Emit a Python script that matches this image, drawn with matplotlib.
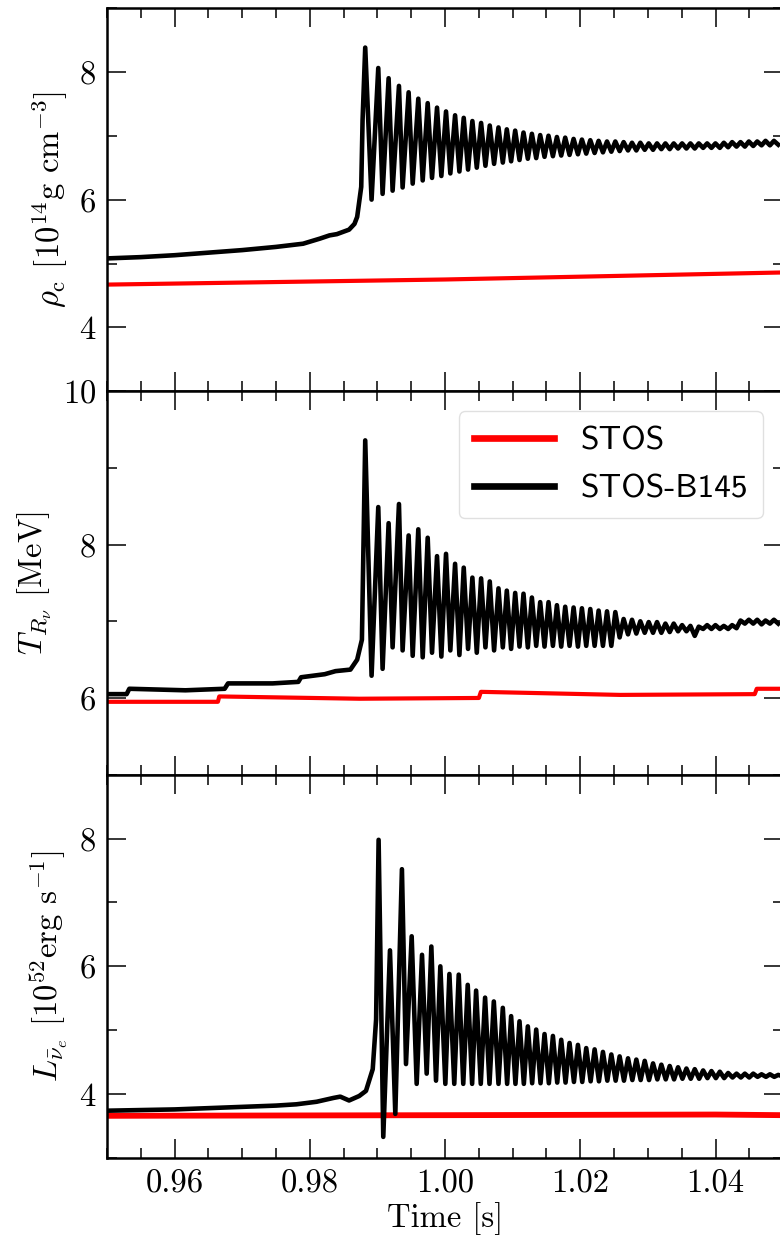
import numpy as np
import matplotlib
matplotlib.use("Agg")
import matplotlib.pyplot as plt
from matplotlib.ticker import MultipleLocator

plt.rcParams.update({
    "font.family": "serif",
    "font.serif": ["cmr10"],
    "mathtext.fontset": "cm",
    "axes.formatter.use_mathtext": True,
    "axes.unicode_minus": False,
    "font.size": 23.5,
})

# ---- shared peak / trough times after bounce (panels 1 and 2) ----
t_peak = [0.98819, 0.99012, 0.99165, 0.99318, 0.99461, 0.99604, 0.99743, 0.99881, 1.00014, 1.00148,
          1.00276, 1.00404, 1.00533, 1.00661, 1.00790, 1.00913, 1.01037, 1.01160, 1.01284, 1.01407,
          1.01530, 1.01654, 1.01777, 1.01901, 1.02024, 1.02148, 1.02271, 1.02395, 1.02518, 1.02641,
          1.02765, 1.02888, 1.03012, 1.03135, 1.03259, 1.03382, 1.03506, 1.03629, 1.03752, 1.03876,
          1.03999, 1.04123, 1.04246, 1.04370, 1.04493, 1.04617, 1.04740, 1.04864]
t_trough = [0.98913, 0.99076, 0.99224, 0.99372, 0.99521, 0.99669, 0.99807, 0.99945, 1.00078, 1.00212,
            1.00340, 1.00469, 1.00597, 1.00725, 1.00854, 1.00977, 1.01101, 1.01224, 1.01348, 1.01471,
            1.01595, 1.01718, 1.01841, 1.01965, 1.02088, 1.02212, 1.02335, 1.02459, 1.02582, 1.02706,
            1.02829, 1.02953, 1.03076, 1.03199, 1.03323, 1.03446, 1.03570, 1.03693, 1.03817, 1.03940,
            1.04064, 1.04187, 1.04311, 1.04434, 1.04558, 1.04681, 1.04805, 1.04928]

# ---- panel 1: central density ----
rho_red_t = [0.95, 1.00, 1.05]
rho_red = [4.67, 4.75, 4.86]
rho_pre_t = [0.95, 0.955, 0.96, 0.965, 0.97, 0.975, 0.979, 0.9815, 0.9829, 0.9840,
             0.9858, 0.9866, 0.9870, 0.9876, 0.9878]
rho_pre = [5.08, 5.10, 5.13, 5.17, 5.21, 5.26, 5.31, 5.39, 5.44, 5.46,
           5.53, 5.62, 5.73, 6.20, 7.25]
rho_peak = [8.38, 8.06, 7.90, 7.78, 7.68, 7.58, 7.51, 7.44, 7.38, 7.32,
            7.28, 7.23, 7.20, 7.16, 7.13, 7.10, 7.08, 7.05, 7.03, 7.01,
            7.00, 6.98, 6.97, 6.95, 6.94, 6.93, 6.92, 6.91, 6.91, 6.90,
            6.89, 6.89, 6.88, 6.88, 6.88, 6.88, 6.88, 6.88, 6.88, 6.88,
            6.88, 6.89, 6.90, 6.90, 6.91, 6.91, 6.92, 6.92]
rho_trough = [6.00, 6.09, 6.14, 6.19, 6.25, 6.30, 6.34, 6.37, 6.41, 6.44,
              6.47, 6.50, 6.53, 6.56, 6.58, 6.60, 6.62, 6.64, 6.65, 6.67,
              6.68, 6.69, 6.70, 6.71, 6.72, 6.73, 6.74, 6.75, 6.76, 6.77,
              6.77, 6.78, 6.78, 6.79, 6.79, 6.80, 6.80, 6.80, 6.81, 6.81,
              6.81, 6.82, 6.83, 6.83, 6.84, 6.85, 6.85, 6.86]

# ---- panel 2: neutrinosphere temperature ----
temp_red_t = [0.95, 0.9664, 0.9666, 0.9873, 1.0050, 1.0053, 1.0259, 1.0458, 1.0461, 1.05]
temp_red = [5.95, 5.95, 6.02, 5.99, 6.00, 6.08, 6.04, 6.05, 6.12, 6.12]
temp_pre_t = [0.95, 0.9529, 0.9533, 0.9616, 0.9674, 0.9679, 0.9745, 0.9783, 0.9787, 0.9822,
              0.9838, 0.9860, 0.9870, 0.9877]
temp_pre = [6.05, 6.05, 6.12, 6.10, 6.12, 6.19, 6.19, 6.21, 6.27, 6.31,
            6.35, 6.37, 6.50, 6.76]
temp_peak = [9.36, 8.49, 8.28, 8.53, 8.12, 8.20, 8.09, 7.85, 7.88, 7.75,
             7.70, 7.57, 7.56, 7.52, 7.43, 7.40, 7.37, 7.36, 7.31, 7.25,
             7.25, 7.21, 7.19, 7.18, 7.17, 7.16, 7.14, 7.13, 7.12, 7.03,
             7.02, 7.00, 6.99, 6.99, 6.97, 6.97, 6.95, 6.94, 6.93, 6.95,
             6.95, 6.94, 6.95, 7.01, 7.02, 7.02, 7.01, 7.02]
temp_trough = [6.29, 6.38, 6.66, 6.62, 6.55, 6.53, 6.59, 6.54, 6.62, 6.56,
               6.64, 6.59, 6.66, 6.62, 6.66, 6.64, 6.67, 6.66, 6.68, 6.67,
               6.68, 6.67, 6.68, 6.67, 6.68, 6.68, 6.68, 6.68, 6.79, 6.83,
               6.84, 6.85, 6.85, 6.85, 6.86, 6.87, 6.87, 6.81, 6.90, 6.90,
               6.90, 6.90, 6.91, 6.97, 6.97, 6.96, 6.97, 6.97]

# ---- panel 3: anti-nu_e luminosity ----
lum_red_t = [0.95, 1.00, 1.04, 1.05]
lum_red = [3.66, 3.67, 3.68, 3.67]
lum_pre_t = [0.95, 0.955, 0.96, 0.965, 0.97, 0.975, 0.978, 0.981, 0.9835, 0.9845,
             0.9858, 0.9873, 0.9883, 0.9893, 0.9898]
lum_pre = [3.74, 3.75, 3.76, 3.78, 3.80, 3.82, 3.84, 3.88, 3.94, 3.96,
           3.90, 3.97, 4.05, 4.39, 5.17]
lum_peak_t = [0.99017, 0.99185, 0.99362, 0.99506, 0.99659, 0.99797, 0.99930, 1.00064, 1.00202, 1.00335,
              1.00459, 1.00592, 1.00721, 1.00854, 1.00977, 1.01101, 1.01224, 1.01348, 1.01471, 1.01595,
              1.01718, 1.01841, 1.01965, 1.02088, 1.02212, 1.02335, 1.02459, 1.02582, 1.02706, 1.02829,
              1.02953, 1.03076, 1.03199, 1.03323, 1.03446, 1.03570, 1.03693, 1.03817, 1.03940, 1.04064,
              1.04187, 1.04311, 1.04434, 1.04558, 1.04681, 1.04805, 1.04928]
lum_peak = [7.98, 6.25, 7.52, 6.47, 6.18, 6.31, 6.00, 5.88, 5.87, 5.71,
            5.62, 5.51, 5.45, 5.35, 5.22, 5.14, 5.06, 5.01, 4.94, 4.91,
            4.85, 4.80, 4.77, 4.72, 4.70, 4.66, 4.62, 4.59, 4.56, 4.54,
            4.52, 4.48, 4.46, 4.44, 4.42, 4.40, 4.39, 4.37, 4.36, 4.35,
            4.33, 4.32, 4.32, 4.32, 4.31, 4.31, 4.30]
lum_trough_t = [0.99086, 0.99264, 0.99422, 0.99580, 0.99728, 0.99866, 1.00004, 1.00136, 1.00269, 1.00400,
                1.00528, 1.00657, 1.00790, 1.00918, 1.01041, 1.01165, 1.01288, 1.01412, 1.01535, 1.01659,
                1.01782, 1.01906, 1.02029, 1.02153, 1.02276, 1.02400, 1.02523, 1.02646, 1.02770, 1.02893,
                1.03017, 1.03140, 1.03264, 1.03387, 1.03511, 1.03634, 1.03758, 1.03881, 1.04005, 1.04128,
                1.04252, 1.04375, 1.04499, 1.04622, 1.04746, 1.04869, 1.04990]
lum_trough = [3.33, 3.69, 4.47, 4.16, 4.32, 4.21, 4.16, 4.16, 4.16, 4.16,
              4.16, 4.16, 4.16, 4.16, 4.16, 4.16, 4.17, 4.17, 4.17, 4.18,
              4.18, 4.19, 4.19, 4.20, 4.20, 4.21, 4.21, 4.21, 4.22, 4.22,
              4.22, 4.23, 4.23, 4.23, 4.24, 4.24, 4.24, 4.25, 4.25, 4.25,
              4.26, 4.26, 4.26, 4.27, 4.27, 4.27, 4.28]


def merge(t_pre, v_pre, t_pk, v_pk, t_tr, v_tr):
    # pre-bounce track + alternating peaks/troughs, sorted in time
    t = np.concatenate([t_pre, t_pk, t_tr])
    v = np.concatenate([v_pre, v_pk, v_tr])
    order = np.argsort(t)
    return t[order], v[order]


fig, axes = plt.subplots(3, 1, sharex=True, figsize=(7.8, 12.43), dpi=100)
fig.subplots_adjust(left=0.1372, right=1.004, bottom=0.0684, top=0.9936, hspace=0)

panels = [
    (rho_red_t, rho_red, merge(rho_pre_t, rho_pre, t_peak, rho_peak, t_trough, rho_trough),
     (3, 9), r'$\rho_{\rm c}$ [$10^{14}$g cm$^{-3}$]'),
    (temp_red_t, temp_red, merge(temp_pre_t, temp_pre, t_peak, temp_peak, t_trough, temp_trough),
     (5, 10), r'$T_{R_\nu}$ [MeV]'),
    (lum_red_t, lum_red, merge(lum_pre_t, lum_pre, lum_peak_t, lum_peak, lum_trough_t, lum_trough),
     (3, 9), r'$L_{\bar{\nu}_e}$ [$10^{52}$erg s$^{-1}$]'),
]

for i, (ax, (rt, rv, (bt, bv), ylim, ylab)) in enumerate(zip(axes, panels)):
    red_lw = 4.2 if i == 2 else 3.0
    ax.plot(rt, rv, color="red", lw=red_lw, label="STOS")
    ax.plot(bt, bv, color="black", lw=3.3, label="STOS-B145")
    ax.set_xlim(0.95, 1.05)
    ax.set_ylim(*ylim)
    ax.set_ylabel(ylab, labelpad=6)
    ax.xaxis.set_major_locator(MultipleLocator(0.02))
    ax.xaxis.set_minor_locator(MultipleLocator(0.005))
    ax.yaxis.set_major_locator(MultipleLocator(2))
    ax.yaxis.set_minor_locator(MultipleLocator(1))
    ax.tick_params(which="both", direction="in", top=True, right=True, width=1.1, pad=8)
    ax.tick_params(which="major", length=14)
    ax.tick_params(which="minor", length=7.5)
    for s in ax.spines.values():
        s.set_linewidth(1.8)

axes[2].xaxis.set_major_formatter(matplotlib.ticker.FormatStrFormatter("%.2f"))
axes[2].set_xlabel("Time [s]", labelpad=3)

leg = axes[1].legend(loc="upper right", prop={"family": "cmss10", "size": 24},
                     handlelength=2.4, handletextpad=0.8, borderaxespad=0.6,
                     labelspacing=0.55, borderpad=0.45,
                     fancybox=True, framealpha=0.8, edgecolor="0.85")
for line in leg.get_lines():
    line.set_linewidth(4.8)

fig.savefig("out.png", dpi=100)
